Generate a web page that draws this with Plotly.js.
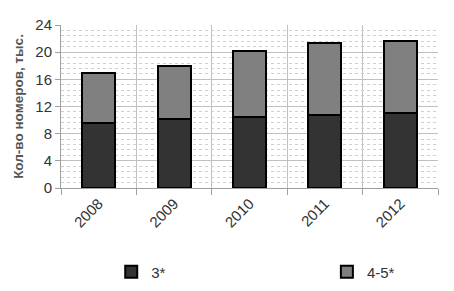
<!DOCTYPE html>
<html>
<head>
<meta charset="utf-8">
<script src="https://cdn.plot.ly/plotly-3.0.1.min.js"></script>
<style>html,body{margin:0;padding:0;background:#fff;}</style>
</head>
<body>
<div id="chart" style="width:454px;height:291px;"></div>
<script>
const years = ["2008", "2009", "2010", "2011", "2012"];
const stars3 = [9.6, 10.1, 10.5, 10.8, 11.1];
const stars45 = [7.4, 7.8, 9.6, 10.5, 10.5];
const seriesNames = ["3*", "4-5*"];
const yTicks = [0, 4, 8, 12, 16, 20, 24];

const xIdx = years.map((_, i) => i);
const font = "Liberation Sans, Arial, sans-serif";

const traces = [
  {type: "bar", name: seriesNames[0], x: xIdx, y: stars3, width: 0.44, legend: "legend",
   marker: {color: "#333333", line: {color: "#000", width: 2}}},
  {type: "bar", name: seriesNames[1], x: xIdx, y: stars45, width: 0.44, legend: "legend2",
   marker: {color: "#808080", line: {color: "#000", width: 2}}}
];

const legendCommon = {orientation: "h", yref: "container", xref: "container",
                      y: 0.065, yanchor: "middle", xanchor: "left",
                      bgcolor: "rgba(0,0,0,0)", font: {size: 15, color: "#333", family: font}};

const layout = {
  barmode: "stack",
  width: 454, height: 291,
  margin: {l: 61, r: 16, t: 25, b: 103},
  paper_bgcolor: "#fff", plot_bgcolor: "#fff",
  font: {family: font, color: "#333", size: 14},
  showlegend: true,
  legend: Object.assign({}, legendCommon, {x: 0.245}),
  legend2: Object.assign({}, legendCommon, {x: 0.72}),
  xaxis: {
    range: [-0.5, 4.5], tickmode: "array", tickvals: xIdx, ticktext: years,
    tickangle: -45, showgrid: false, zeroline: false, ticks: "", automargin: false,
    showline: true, linecolor: "#a0a0a0", linewidth: 1,
    tickfont: {size: 15, color: "#333"},
    minor: {tick0: 0.5, dtick: 1, showgrid: true, gridcolor: "#c0c0c0", gridwidth: 1,
            ticks: "outside", ticklen: 6, tickcolor: "#a0a0a0"}
  },
  yaxis: {
    range: [0, 24], tickmode: "array", tickvals: yTicks, automargin: false,
    showgrid: true, gridcolor: "#c0c0c0", gridwidth: 1, zeroline: false,
    showline: true, linecolor: "#a0a0a0", ticks: "outside", ticklen: 5, tickcolor: "#a0a0a0",
    tickfont: {size: 15, color: "#333"},
    minor: {dtick: 0.8, tick0: 0, showgrid: true, gridcolor: "#cfcfcf", griddash: "dot", gridwidth: 1},
    title: {text: "Кол-во номеров, тыс.", standoff: 8,
            font: {size: 13.5, color: "#555", family: font, weight: "bold"}}
  }
};

Plotly.newPlot("chart", traces, layout, {displayModeBar: false, staticPlot: true});
</script>
</body>
</html>
